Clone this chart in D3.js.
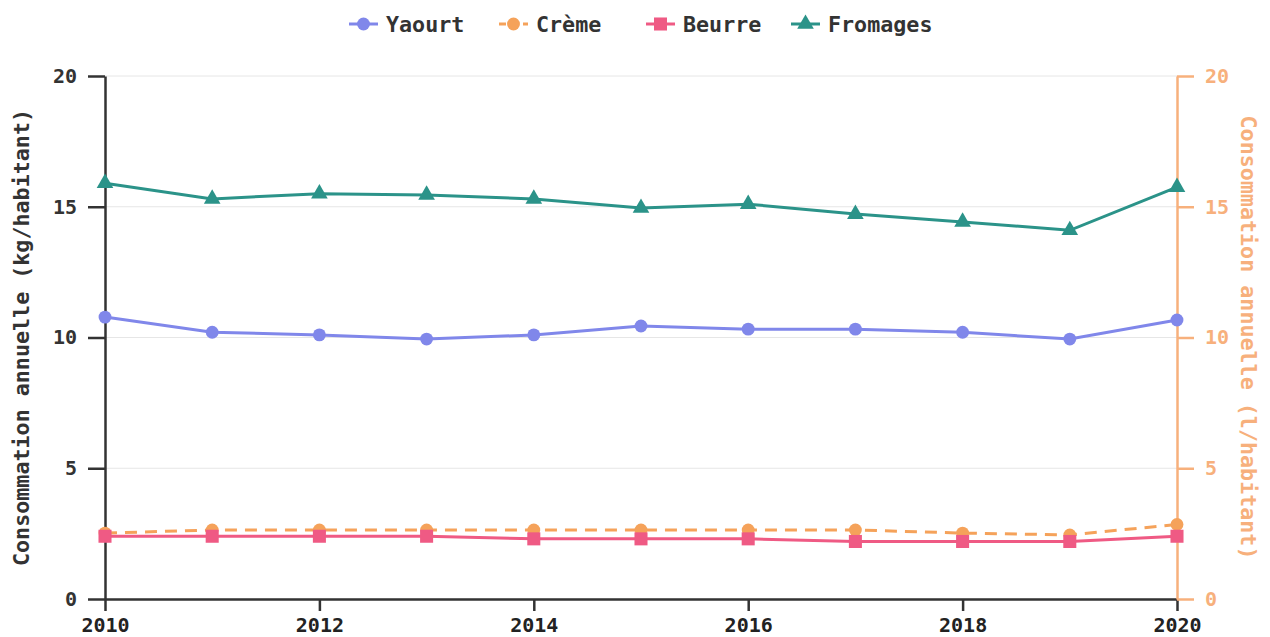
<!DOCTYPE html>
<html><head><meta charset="utf-8">
<script src="https://cdn.jsdelivr.net/npm/d3@7"></script>
<style>body{margin:0;background:#fff}svg{display:block}text{font-family:"DejaVu Sans Mono",monospace;font-weight:bold}</style>
</head><body>
<script>
const years = [2010,2011,2012,2013,2014,2015,2016,2017,2018,2019,2020];
const yaourt = [10.78,10.2,10.1,9.94,10.1,10.44,10.32,10.32,10.2,9.94,10.67];
const creme = [2.52,2.64,2.64,2.64,2.64,2.64,2.64,2.64,2.52,2.45,2.85];
const beurre = [2.4,2.4,2.4,2.4,2.3,2.3,2.3,2.2,2.2,2.2,2.4];
const fromages = [15.9,15.3,15.5,15.45,15.3,14.95,15.1,14.72,14.42,14.1,15.75];
const yTicks = [0,5,10,15,20];
const xTicks = [2010,2012,2014,2016,2018,2020];
const leftTitle = "Consommation annuelle (kg/habitant)";
const rightTitle = "Consommation annuelle (l/habitant)";

const W=1270,H=637, L=105, R=1177, T=76, B=599;
const cYa="#8087ea", cCr="#f5a25a", cBe="#ef5a84", cFr="#2b9389", cAx="#f7b07c";
const svg=d3.select("body").append("svg").attr("width",W).attr("height",H);
const x=d3.scaleLinear().domain([2010,2020]).range([L,R]);
const yL=d3.scaleLinear().domain([0,20]).range([B,T]);
const yR=d3.scaleLinear().domain([0,20]).range([B,T]);

// grid
svg.append("g").selectAll("line").data(yTicks).join("line")
 .attr("x1",L).attr("x2",R).attr("y1",d=>yL(d)).attr("y2",d=>yL(d))
 .attr("stroke","#e6e6e6").attr("stroke-width",1);

// axes
const gx=svg.append("g").attr("transform",`translate(0,${B})`)
 .call(d3.axisBottom(x).tickValues(xTicks).tickFormat(d3.format("d")).tickSize(12).tickSizeOuter(0).tickPadding(7));
gx.select(".domain").attr("stroke","#333").attr("stroke-width",2.5);
gx.selectAll(".tick line").attr("stroke","#333").attr("stroke-width",2.5);
gx.selectAll("text").attr("fill","#222").attr("font-size",20);

const gl=svg.append("g").attr("transform",`translate(${L},0)`)
 .call(d3.axisLeft(yL).tickValues(yTicks).tickSize(17).tickSizeOuter(0).tickPadding(11));
gl.select(".domain").attr("stroke","#333").attr("stroke-width",2.5);
gl.selectAll(".tick line").attr("stroke","#333").attr("stroke-width",2.5);
gl.selectAll("text").attr("fill","#333").attr("font-size",20);

const gr=svg.append("g").attr("transform",`translate(${R},0)`)
 .call(d3.axisRight(yR).tickValues(yTicks).tickSize(17).tickSizeOuter(0).tickPadding(11));
gr.select(".domain").attr("stroke",cAx).attr("stroke-width",2.5);
gr.selectAll(".tick line").attr("stroke",cAx).attr("stroke-width",2.5);
gr.selectAll("text").attr("fill",cAx).attr("font-size",20);

svg.append("text").attr("transform",`translate(29,${(T+B)/2}) rotate(-90)`)
 .attr("text-anchor","middle").attr("font-size",21.7).attr("fill","#333").text(leftTitle);
svg.append("text").attr("transform",`translate(1241,${(T+B)/2}) rotate(90)`)
 .attr("text-anchor","middle").attr("font-size",21.7).attr("fill",cAx).text(rightTitle);

const series=[
 {name:"Yaourt",vals:yaourt,color:cYa,sym:d3.symbolCircle,size:130,dash:null,scale:yL},
 {name:"Crème",vals:creme,color:cCr,sym:d3.symbolCircle,size:130,dash:"12,8",scale:yR},
 {name:"Beurre",vals:beurre,color:cBe,sym:d3.symbolSquare,size:170,dash:null,scale:yL},
 {name:"Fromages",vals:fromages,color:cFr,sym:d3.symbolTriangle,size:120,dash:null,scale:yL}
];
series.forEach(s=>{
 const line=d3.line().x((d,i)=>x(years[i])).y(d=>s.scale(d));
 svg.append("path").datum(s.vals).attr("d",line).attr("fill","none")
  .attr("stroke",s.color).attr("stroke-width",3).attr("stroke-dasharray",s.dash);
 svg.append("g").selectAll("path").data(s.vals).join("path")
  .attr("d",d3.symbol().type(s.sym).size(s.size))
  .attr("transform",(d,i)=>`translate(${x(years[i])},${s.scale(d)})`)
  .attr("fill",s.color);
});

// legend
const legTextX=[386,536,683,828];
const lg=svg.append("g");
series.forEach((s,i)=>{
 const g=lg.append("g").attr("transform",`translate(${legTextX[i]-37},24)`);
 g.append("line").attr("x1",0).attr("x2",29).attr("stroke",s.color).attr("stroke-width",3).attr("stroke-dasharray",s.dash?"7,5":null);
 g.append("path").attr("d",d3.symbol().type(s.sym).size(s.size)).attr("transform","translate(14.5,0)").attr("fill",s.color);
 g.append("text").attr("x",37).attr("dy","0.35em").attr("font-size",21.7).attr("fill","#333").text(s.name);
});
</script>
</body></html>
